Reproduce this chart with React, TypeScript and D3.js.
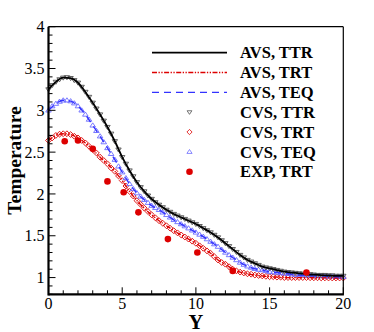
import * as d3 from "d3";

// grids of Y positions
const avsGrid = d3.range(0, 20.001, 0.5);
const cvsGrid = d3.range(0, 20.001, 0.25);

// AVS lines (step 0.5)
const avsTTR = [3.25, 3.34, 3.39, 3.385, 3.33, 3.22, 3.09, 2.95, 2.8, 2.63, 2.44, 2.28, 2.14, 2.03, 1.94, 1.87, 1.81, 1.76, 1.72, 1.68, 1.64, 1.59, 1.54, 1.48, 1.41, 1.34, 1.27, 1.21, 1.17, 1.13, 1.11, 1.09, 1.07, 1.06, 1.05, 1.04, 1.035, 1.03, 1.025, 1.02, 1.02];
const avsTRT = [2.64, 2.7, 2.72, 2.71, 2.67, 2.61, 2.53, 2.44, 2.36, 2.27, 2.16, 2.03, 1.92, 1.83, 1.75, 1.68, 1.62, 1.56, 1.51, 1.46, 1.41, 1.35, 1.29, 1.21, 1.16, 1.1, 1.065, 1.045, 1.03, 1.02, 1.01, 1.005, 1.0, 1.0, 1.0, 1.0, 0.998, 0.997, 0.996, 0.995, 0.995];
const avsTEQ = [3.0, 3.08, 3.12, 3.11, 3.05, 2.95, 2.82, 2.69, 2.55, 2.41, 2.26, 2.12, 2.01, 1.93, 1.86, 1.81, 1.75, 1.69, 1.64, 1.59, 1.54, 1.49, 1.43, 1.37, 1.3, 1.24, 1.18, 1.135, 1.105, 1.09, 1.07, 1.06, 1.05, 1.04, 1.03, 1.025, 1.02, 1.02, 1.015, 1.01, 1.01];

// CVS markers (step 0.25)
const cvsTTR = [3.25, 3.3, 3.34, 3.37, 3.39, 3.395, 3.385, 3.36, 3.33, 3.28, 3.22, 3.16, 3.09, 3.02, 2.95, 2.875, 2.8, 2.72, 2.63, 2.53, 2.44, 2.36, 2.28, 2.21, 2.14, 2.08, 2.03, 1.98, 1.94, 1.9, 1.87, 1.84, 1.81, 1.785, 1.76, 1.74, 1.72, 1.7, 1.68, 1.66, 1.64, 1.615, 1.59, 1.565, 1.54, 1.51, 1.48, 1.445, 1.41, 1.375, 1.34, 1.305, 1.27, 1.24, 1.21, 1.19, 1.17, 1.15, 1.13, 1.12, 1.11, 1.1, 1.09, 1.08, 1.07, 1.065, 1.06, 1.055, 1.05, 1.045, 1.04, 1.04, 1.035, 1.03, 1.03, 1.03, 1.025, 1.025, 1.02, 1.02, 1.02];
const cvsTRT = [2.64, 2.67, 2.7, 2.715, 2.72, 2.72, 2.71, 2.69, 2.67, 2.64, 2.61, 2.57, 2.53, 2.49, 2.44, 2.4, 2.36, 2.31, 2.27, 2.215, 2.16, 2.095, 2.03, 1.975, 1.92, 1.875, 1.83, 1.79, 1.75, 1.715, 1.68, 1.65, 1.62, 1.59, 1.56, 1.535, 1.51, 1.485, 1.46, 1.435, 1.41, 1.38, 1.35, 1.32, 1.29, 1.25, 1.21, 1.18, 1.16, 1.13, 1.1, 1.08, 1.065, 1.055, 1.045, 1.04, 1.03, 1.025, 1.02, 1.015, 1.01, 1.01, 1.005, 1.005, 1.0, 1.0, 1.0, 1.0, 1.0, 1.0, 1.0, 0.998, 0.997, 0.997, 0.996, 0.996, 0.995, 0.995, 0.995, 0.995, 0.995];
const cvsTEQ = [3.0, 3.05, 3.08, 3.105, 3.12, 3.12, 3.11, 3.085, 3.05, 3.0, 2.95, 2.89, 2.82, 2.755, 2.69, 2.62, 2.55, 2.48, 2.41, 2.33, 2.26, 2.19, 2.12, 2.06, 2.01, 1.97, 1.93, 1.895, 1.86, 1.835, 1.81, 1.78, 1.75, 1.72, 1.69, 1.665, 1.64, 1.615, 1.59, 1.565, 1.54, 1.515, 1.49, 1.46, 1.43, 1.4, 1.37, 1.335, 1.3, 1.27, 1.24, 1.21, 1.18, 1.155, 1.135, 1.12, 1.105, 1.095, 1.09, 1.08, 1.07, 1.065, 1.06, 1.055, 1.05, 1.045, 1.04, 1.035, 1.03, 1.03, 1.025, 1.025, 1.02, 1.02, 1.02, 1.015, 1.015, 1.015, 1.01, 1.01, 1.01];

// experiment
const expY = [1.1, 2.0, 3.0, 4.0, 5.1, 6.1, 8.1, 10.1, 12.5, 17.5];
const expT = [2.63, 2.64, 2.54, 2.15, 2.02, 1.78, 1.46, 1.3, 1.08, 1.06];

const xTicks = [0, 5, 10, 15, 20];
const yTicks = [1, 1.5, 2, 2.5, 3, 3.5, 4];
const legendLabels = ["AVS, TTR", "AVS, TRT", "AVS, TEQ", "CVS, TTR", "CVS, TRT", "CVS, TEQ", "EXP, TRT"];

const RED = "#dd0000";
const BLUE = "#3333ff";
const LBLUE = "#6b6bff";
const GRAY = "#505050";
const FONT = "'Liberation Serif', 'Times New Roman', serif";

const W = 374;
const H = 332;
const M = { left: 48.5, right: 30.7, top: 26.7, bottom: 37.7 };

const triDown = (x: number, y: number, s: number) =>
  `M${x - s},${y - s * 0.6}L${x + s},${y - s * 0.6}L${x},${y + s * 0.9}Z`;
const triUp = (x: number, y: number, s: number) =>
  `M${x - s},${y + s * 0.6}L${x + s},${y + s * 0.6}L${x},${y - s * 0.9}Z`;
const diamond = (x: number, y: number, s: number) =>
  `M${x},${y - s}L${x + s},${y}L${x},${y + s}L${x - s},${y}Z`;

export default function App() {
  const x = d3.scaleLinear().domain([0, 20]).range([M.left, W - M.right]);
  const y = d3.scaleLinear().domain([0.8, 4]).range([H - M.bottom, M.top]);

  const line = (vals: number[]) =>
    d3
      .line<number>()
      .x((_, i) => x(avsGrid[i]))
      .y((d) => y(d))
      .curve(d3.curveMonotoneX)(vals) || "";

  const x0 = x(0);
  const x1 = x(20);
  const yb = y(0.8);
  const yt = y(4);

  const xMinor = d3.range(0, 21, 1);
  const yMinor = d3.range(0.8, 4.0001, 0.1);

  const legX1 = 152;
  const legX2 = 227;
  const legText = 240;
  const legY0 = 52.7;
  const legStep = 19.83;
  const legMark = (legX1 + legX2) / 2;

  return (
    <div style={{ position: "fixed", left: 0, top: 0 }}>
      <svg width={W} height={H} style={{ display: "block", background: "#fff" }}>
        {/* CVS markers */}
        <g fill="none" strokeWidth={0.9}>
          {cvsTRT.map((v, i) => (
            <path key={"r" + i} d={diamond(x(cvsGrid[i]), y(v), 2.9)} stroke={RED} />
          ))}
          {cvsTEQ.map((v, i) => (
            <path key={"b" + i} d={triUp(x(cvsGrid[i]), y(v), 2.8)} stroke={LBLUE} />
          ))}
          {cvsTTR.map((v, i) => (
            <path key={"k" + i} d={triDown(x(cvsGrid[i]), y(v), 2.7)} stroke={GRAY} />
          ))}
        </g>

        {/* AVS lines */}
        <path d={line(avsTRT)} fill="none" stroke={RED} strokeWidth={1.4} strokeDasharray="5,1.5,1.3,1.5,1.3,1.5" />
        <path d={line(avsTEQ)} fill="none" stroke={BLUE} strokeWidth={1.4} strokeDasharray="7,5" />
        <path d={line(avsTTR)} fill="none" stroke="#000" strokeWidth={1.8} />

        {/* EXP */}
        {expT.map((v, i) => (
          <circle key={"e" + i} cx={x(expY[i])} cy={y(v)} r={3.3} fill={RED} />
        ))}

        {/* frame */}
        <line x1={x0} x2={x1} y1={yt} y2={yt} stroke="#000" strokeWidth={1.2} />
        <line x1={x1} x2={x1} y1={yt} y2={yb} stroke="#000" strokeWidth={1.2} />
        <line x1={x0} x2={x1 + 0.6} y1={yb} y2={yb} stroke="#000" strokeWidth={2.2} />
        <line x1={x0} x2={x0} y1={yt} y2={yb + 1.1} stroke="#000" strokeWidth={2.2} />

        {/* x ticks */}
        {xMinor.map((t) => (
          <line key={"xm" + t} x1={x(t)} x2={x(t)} y1={yb} y2={yb - (t % 5 === 0 ? 7 : 4)} stroke="#000" strokeWidth={1} />
        ))}
        {xTicks.map((t) => (
          <text key={"xl" + t} x={x(t)} y={yb + 15} textAnchor="middle" fontFamily={FONT} fontSize={16}>
            {t}
          </text>
        ))}

        {/* y ticks */}
        {yMinor.map((t, i) => {
          const major = Math.abs(t * 2 - Math.round(t * 2)) < 1e-6;
          return <line key={"ym" + i} x1={x0} x2={x0 + (major ? 7 : 4)} y1={y(t)} y2={y(t)} stroke="#000" strokeWidth={1} />;
        })}
        {yTicks.map((t) => (
          <text key={"yl" + t} x={x0 - 4} y={y(t)} dy="0.35em" textAnchor="end" fontFamily={FONT} fontSize={16}>
            {t}
          </text>
        ))}

        {/* axis titles */}
        <text x={(x0 + x1) / 2} y={328.5} textAnchor="middle" fontFamily={FONT} fontSize={20.5} fontWeight="bold">
          Y
        </text>
        <text
          transform={`translate(20.5,${(yt + yb) / 2}) rotate(-90)`}
          textAnchor="middle"
          fontFamily={FONT}
          fontSize={19.5}
          fontWeight="bold"
        >
          Temperature
        </text>

        {/* legend */}
        <g>
          <line x1={legX1} x2={legX2} y1={legY0} y2={legY0} stroke="#000" strokeWidth={1.8} />
          <line x1={legX1} x2={legX2} y1={legY0 + legStep} y2={legY0 + legStep} stroke={RED} strokeWidth={1.4} strokeDasharray="5,1.5,1.3,1.5,1.3,1.5" />
          <line x1={legX1} x2={legX2} y1={legY0 + legStep * 2} y2={legY0 + legStep * 2} stroke={BLUE} strokeWidth={1.4} strokeDasharray="7,5" />
          <path d={triDown(legMark, legY0 + legStep * 3, 2.4)} fill="none" stroke={GRAY} strokeWidth={0.8} />
          <path d={diamond(legMark, legY0 + legStep * 4, 2.6)} fill="none" stroke={RED} strokeWidth={0.8} />
          <path d={triUp(legMark, legY0 + legStep * 5, 2.6)} fill="none" stroke={LBLUE} strokeWidth={0.8} />
          <circle cx={legMark} cy={legY0 + legStep * 6} r={3.3} fill={RED} />
          {legendLabels.map((l, i) => (
            <text key={l} x={legText} y={legY0 + legStep * i} dy="0.35em" fontFamily={FONT} fontSize={16.5} fontWeight="bold">
              {l}
            </text>
          ))}
        </g>
      </svg>
    </div>
  );
}
